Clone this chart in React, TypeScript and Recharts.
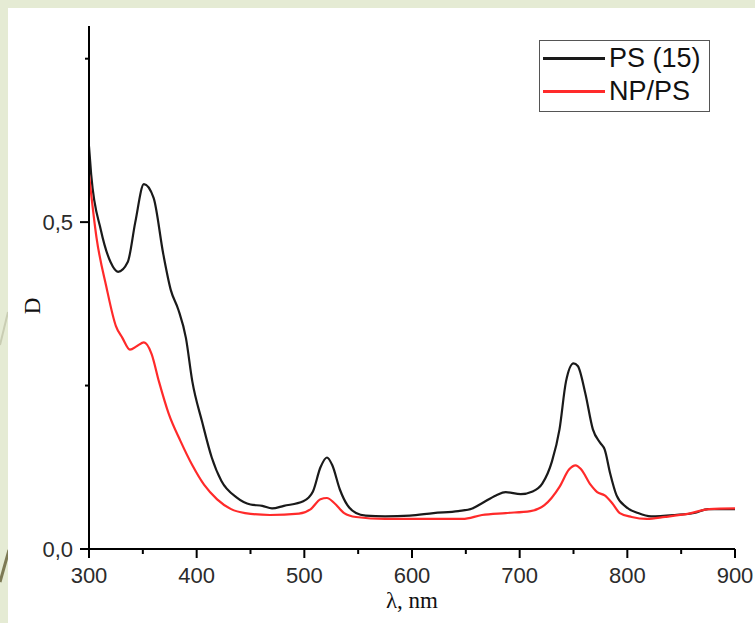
import React from 'react';
import { LineChart, Line, XAxis, YAxis } from 'recharts';

// PS (15) spectrum
const psWavelength = [300, 302, 311, 320, 327, 336, 343, 351, 360, 369, 376, 383, 390, 396, 405, 414, 423, 437, 450, 461, 470, 481, 499, 508, 515, 521, 526, 533, 540, 548, 557, 575, 598, 620, 643, 656, 665, 678, 687, 701, 712, 721, 730, 737, 743, 750, 754, 761, 768, 775, 779, 784, 790, 799, 810, 822, 844, 862, 875, 900];
const psValues = [0.616, 0.573, 0.488, 0.439, 0.424, 0.439, 0.5, 0.558, 0.537, 0.451, 0.396, 0.366, 0.323, 0.256, 0.195, 0.14, 0.104, 0.079, 0.068, 0.066, 0.062, 0.066, 0.073, 0.088, 0.125, 0.14, 0.128, 0.091, 0.067, 0.055, 0.051, 0.05, 0.051, 0.055, 0.058, 0.062, 0.07, 0.082, 0.087, 0.084, 0.088, 0.1, 0.134, 0.183, 0.256, 0.284, 0.28, 0.238, 0.183, 0.162, 0.152, 0.116, 0.082, 0.064, 0.055, 0.05, 0.052, 0.055, 0.061, 0.061];

// NP/PS spectrum
const npWavelength = [300, 307, 316, 325, 331, 338, 345, 351, 358, 365, 374, 385, 396, 407, 419, 432, 445, 468, 495, 506, 515, 521, 528, 537, 548, 575, 620, 647, 665, 687, 710, 723, 737, 746, 752, 757, 766, 772, 779, 786, 793, 804, 818, 835, 857, 876, 900];
const npValues = [0.573, 0.476, 0.402, 0.341, 0.323, 0.305, 0.311, 0.316, 0.299, 0.256, 0.207, 0.165, 0.128, 0.098, 0.076, 0.061, 0.055, 0.052, 0.054, 0.061, 0.076, 0.078, 0.07, 0.055, 0.049, 0.046, 0.046, 0.046, 0.052, 0.055, 0.058, 0.067, 0.095, 0.122, 0.128, 0.122, 0.098, 0.087, 0.082, 0.07, 0.055, 0.049, 0.046, 0.049, 0.054, 0.061, 0.062];

const xTicks = [300, 350, 400, 450, 500, 550, 600, 650, 700, 750, 800, 850, 900];
const yTicks = [0, 0.25, 0.5, 0.75];
const yLabels: Record<string, string> = { '0': '0,0', '0.5': '0,5' };

const series = [
  { name: 'PS (15)', color: '#1a1a1a' },
  { name: 'NP/PS', color: '#ff2a2a' },
];

const psData = psWavelength.map((x, i) => ({ x, y: psValues[i] }));
const npData = npWavelength.map((x, i) => ({ x, y: npValues[i] }));

const tickFont = '"Liberation Sans", Arial, sans-serif';
const serif = '"Liberation Serif", "Times New Roman", serif';

const XTick = (props: any) => {
  const { x, y, payload } = props;
  const major = payload.value % 100 === 0;
  return (
    <g>
      <line x1={x} x2={x} y1={y} y2={y + (major ? 9 : 5)} stroke="#000" strokeWidth={2} />
      {major && (
        <text x={x} y={y + 34} textAnchor="middle" fontFamily={tickFont} fontSize={22} fill="#2b2b2b">
          {payload.value}
        </text>
      )}
    </g>
  );
};

const YTick = (props: any) => {
  const { x, y, payload } = props;
  const label = yLabels[String(payload.value)];
  return (
    <g>
      <line x1={x - (label ? 9 : 4)} x2={x} y1={y} y2={y} stroke="#000" strokeWidth={2} />
      {label && (
        <text x={x - 16} y={y + 8} textAnchor="end" fontFamily={tickFont} fontSize={22} fill="#2b2b2b">
          {label}
        </text>
      )}
    </g>
  );
};

export default function App() {
  return (
    <div style={{ position: 'absolute', left: 0, top: 0, width: 755, height: 623, background: '#e5ebd4', overflow: 'hidden' }}>
      <svg width={755} height={623} style={{ position: 'absolute', left: 0, top: 0 }}>
        <line x1={0} y1={582} x2={9} y2={550} stroke="#7d7a55" strokeWidth={3} />
        <line x1={0} y1={345} x2={8} y2={312} stroke="#c9cdb3" strokeWidth={2} />
      </svg>
      <div style={{ position: 'absolute', left: 8, top: 8, width: 747, height: 615, background: '#fff' }} />
      <div style={{ position: 'absolute', left: 0, top: 0 }}>
        <LineChart width={755} height={623} margin={{ top: 26, right: 20, bottom: 24, left: 0 }}>
          <XAxis
            dataKey="x"
            type="number"
            domain={[300, 900]}
            ticks={xTicks}
            interval={0}
            allowDataOverflow
            height={50}
            tickSize={0}
            tickMargin={0}
            tickLine={false}
            tick={<XTick />}
            axisLine={{ stroke: '#000', strokeWidth: 2 }}
          />
          <YAxis
            type="number"
            domain={[0, 0.8]}
            ticks={yTicks}
            interval={0}
            allowDataOverflow
            width={89}
            tickSize={0}
            tickMargin={0}
            tickLine={false}
            tick={<YTick />}
            axisLine={{ stroke: '#000', strokeWidth: 2 }}
          />
          <Line data={psData} dataKey="y" name="PS (15)" type="monotone" stroke="#1a1a1a" strokeWidth={2.2} dot={false} isAnimationActive={false} />
          <Line data={npData} dataKey="y" name="NP/PS" type="monotone" stroke="#ff2a2a" strokeWidth={2.2} dot={false} isAnimationActive={false} />
        </LineChart>
      </div>
      <div style={{ position: 'absolute', left: 539, top: 40, width: 171, height: 72, border: '1.5px solid #555', background: '#fff', fontFamily: tickFont, fontSize: 27, color: '#111', boxSizing: 'border-box', paddingTop: 1 }}>
        {series.map((r, i) => (
          <div key={i} style={{ display: 'flex', alignItems: 'center', height: 33, whiteSpace: 'nowrap' }}>
            <div style={{ width: 62, height: 3, background: r.color, marginLeft: 3, marginRight: 4 }} />
            <span>{r.name}</span>
          </div>
        ))}
      </div>
      <div style={{ position: 'absolute', left: 362, top: 588, width: 100, textAlign: 'center', fontFamily: serif, fontSize: 23, color: '#111' }}>
        λ, nm
      </div>
      <div style={{ position: 'absolute', left: 33, top: 306, transform: 'translate(-50%, -50%) rotate(-90deg)', fontFamily: serif, fontSize: 23, color: '#111' }}>
        D
      </div>
    </div>
  );
}
